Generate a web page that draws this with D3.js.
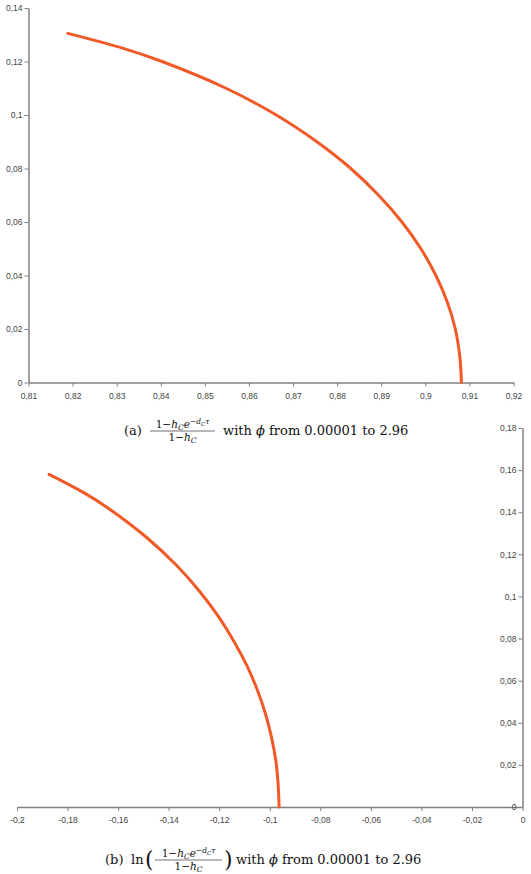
<!DOCTYPE html>
<html>
<head>
<meta charset="utf-8">
<script src="https://cdn.jsdelivr.net/npm/d3@7"></script>
<style>
  body { margin: 0; background: #fff; }
  svg { display: block; }
  .tick text { font-family: "Liberation Sans", Arial, sans-serif; font-size: 8.5px; fill: #444; }
  .caption { font-family: "DejaVu Serif", "Liberation Serif", serif; fill: #111; }
</style>
</head>
<body>
<svg id="chart" width="531" height="874"></svg>
<script>
const ratioRe = [0.9082, 0.9078, 0.9068, 0.905, 0.9024, 0.899, 0.8947, 0.8894, 0.8831, 0.8754, 0.8662, 0.8548, 0.8403, 0.8313, 0.8189];
const ratioIm = [0, 0.01, 0.02, 0.03, 0.04, 0.05, 0.06, 0.07, 0.08, 0.09, 0.1, 0.11, 0.12, 0.125, 0.1305];
// (b) ln of the same ratio
const logRe = [-0.0963, -0.0967, -0.0976, -0.0993, -0.1017, -0.1049, -0.109, -0.1141, -0.1202, -0.1278, -0.137, -0.1487, -0.1639, -0.1736, -0.1873];
const logIm = [0, 0.011, 0.0221, 0.0331, 0.0443, 0.0556, 0.067, 0.0785, 0.0903, 0.1025, 0.1149, 0.128, 0.1419, 0.1493, 0.158];

const ratioXTicks = [0.81, 0.82, 0.83, 0.84, 0.85, 0.86, 0.87, 0.88, 0.89, 0.9, 0.91, 0.92];
const ratioYTicks = [0, 0.02, 0.04, 0.06, 0.08, 0.1, 0.12, 0.14];
const logXTicks = [-0.2, -0.18, -0.16, -0.14, -0.12, -0.1, -0.08, -0.06, -0.04, -0.02, 0];
const logYTicks = [0, 0.02, 0.04, 0.06, 0.08, 0.1, 0.12, 0.14, 0.16, 0.18];

const phiText = "from 0.00001 to 2.96";
const curveColor = "#f05a28";
const axisColor = "#808080";

const svg = d3.select("#chart");

function commaFormat(d) {
  return String(+d.toFixed(2)).replace(".", ",");
}

function styleAxis(g) {
  g.select(".domain").attr("stroke", axisColor).attr("stroke-width", 1.5);
  g.selectAll(".tick line").attr("stroke", axisColor).attr("stroke-width", 1);
}

function drawCurve(xs, ys, xScale, yScale) {
  const pts = xs.map((d, i) => [d, ys[i]]);
  const line = d3
    .line()
    .x((d) => xScale(d[0]))
    .y((d) => yScale(d[1]))
    .curve(d3.curveCatmullRom);

  svg
    .append("path")
    .datum(pts)
    .attr("d", line)
    .attr("fill", "none")
    .attr("stroke", curveColor)
    .attr("stroke-width", 3)
    .attr("stroke-linecap", "round");
}

function createRatioChart() {
  const x = d3.scaleLinear().domain([0.81, 0.92]).range([28.5, 513.5]);
  const y = d3.scaleLinear().domain([0, 0.14]).range([382.5, 8]);

  svg
    .append("g")
    .attr("transform", `translate(0,${y(0)})`)
    .call(d3.axisBottom(x).tickValues(ratioXTicks).tickFormat(commaFormat).tickSize(4).tickSizeOuter(0).tickPadding(6))
    .call(styleAxis);

  svg
    .append("g")
    .attr("transform", `translate(${x(0.81)},0)`)
    .call(d3.axisLeft(y).tickValues(ratioYTicks).tickFormat(commaFormat).tickSize(4).tickSizeOuter(0).tickPadding(2))
    .call(styleAxis);

  drawCurve(ratioRe, ratioIm, x, y);
}

function createLogChart() {
  const x = d3.scaleLinear().domain([-0.2, 0]).range([17, 522.5]);
  const y = d3.scaleLinear().domain([0, 0.18]).range([807, 428]);

  svg
    .append("g")
    .attr("transform", `translate(0,${y(0)})`)
    .call(d3.axisBottom(x).tickValues(logXTicks).tickFormat(commaFormat).tickSize(4).tickSizeOuter(0).tickPadding(6))
    .call(styleAxis);

  svg
    .append("g")
    .attr("transform", `translate(${x(0)},0)`)
    .call(d3.axisLeft(y).tickValues(logYTicks).tickFormat(commaFormat).tickSize(4).tickSizeOuter(0).tickPadding(2))
    .call(styleAxis);

  drawCurve(logRe, logIm, x, y);
}

// the fraction (1 - hC e^{-dC tau}) / (1 - hC) centred on cx, bar at barY
function fraction(cx, barY, x0, x1) {
  const num = svg
    .append("text")
    .attr("class", "caption")
    .attr("x", cx)
    .attr("y", barY - 3)
    .attr("text-anchor", "middle")
    .attr("font-size", 10.5);
  num.append("tspan").text("1\u2212");
  num.append("tspan").attr("font-style", "italic").text("h");
  num.append("tspan").attr("font-style", "italic").attr("font-size", 7.5).attr("dy", 2).text("C");
  num.append("tspan").attr("font-style", "italic").attr("dy", -2).text("e");
  num.append("tspan").attr("font-size", 7.5).attr("dy", -4).text("\u2212");
  num.append("tspan").attr("font-style", "italic").attr("font-size", 7.5).text("d");
  num.append("tspan").attr("font-style", "italic").attr("font-size", 5.5).attr("dy", 1.5).text("C");
  num.append("tspan").attr("font-style", "italic").attr("font-size", 7.5).attr("dy", -1.5).text("\u03c4");

  svg
    .append("line")
    .attr("x1", x0)
    .attr("x2", x1)
    .attr("y1", barY)
    .attr("y2", barY)
    .attr("stroke", "#111")
    .attr("stroke-width", 0.6);

  const den = svg
    .append("text")
    .attr("class", "caption")
    .attr("x", cx)
    .attr("y", barY + 10)
    .attr("text-anchor", "middle")
    .attr("font-size", 10.5);
  den.append("tspan").text("1\u2212");
  den.append("tspan").attr("font-style", "italic").text("h");
  den.append("tspan").attr("font-style", "italic").attr("font-size", 7.5).attr("dy", 2).text("C");
}

function withPhi(x, baseY) {
  const t = svg
    .append("text")
    .attr("class", "caption")
    .attr("x", x)
    .attr("y", baseY)
    .attr("font-size", 13);
  t.append("tspan").text("with ");
  t.append("tspan").attr("font-style", "italic").text("\u03d5");
  t.append("tspan").text(" " + phiText);
}

function createCaptions() {
  // (a)
  svg.append("text").attr("class", "caption").attr("x", 124).attr("y", 435).attr("font-size", 13).text("(a)");
  fraction(182.5, 431, 150, 215);
  withPhi(223, 435);

  // (b)
  svg.append("text").attr("class", "caption").attr("x", 105).attr("y", 864).attr("font-size", 13).text("(b)");
  svg.append("text").attr("class", "caption").attr("x", 131).attr("y", 864).attr("font-size", 13).text("ln");
  svg.append("text").attr("class", "caption").attr("x", 145).attr("y", 867).attr("font-size", 22).text("(");
  fraction(188.5, 860, 155, 222);
  svg.append("text").attr("class", "caption").attr("x", 224).attr("y", 867).attr("font-size", 22).text(")");
  withPhi(236, 864);
}

createRatioChart();
createLogChart();
createCaptions();
</script>
</body>
</html>
